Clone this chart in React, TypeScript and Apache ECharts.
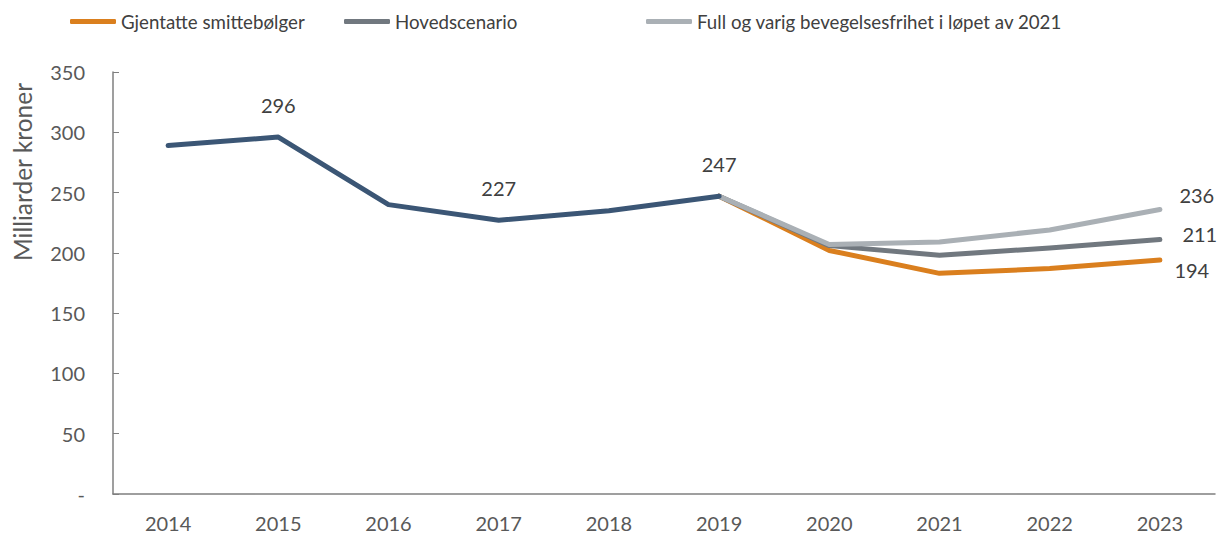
import React, { useEffect, useRef } from "react";
import * as echarts from "echarts";

const years = ["2014", "2015", "2016", "2017", "2018", "2019", "2020", "2021", "2022", "2023"];
const historical = [289, 296, 240, 227, 235, 247, null, null, null, null];
const historicalLabelIdx = [1, 3, 5];
const gjentatte = [null, null, null, null, null, 247, 202, 183, 187, 194];
const hoved = [null, null, null, null, null, 247, 206, 198, 204, 211];
const full = [null, null, null, null, null, 247, 207, 209, 219, 236];
const seriesNames = ["Gjentatte smittebølger", "Hovedscenario", "Full og varig bevegelsesfrihet i løpet av 2021"];
const yTicks = [0, 50, 100, 150, 200, 250, 300, 350];

const FONT = "Lato";

export default function App() {
  const ref = useRef<HTMLDivElement>(null);
  useEffect(() => {
    const chart = echarts.init(ref.current!, null, { renderer: "svg" });
    const lastLabel = (data: (number | null)[], distance: number, offsetY: number) =>
      data.map((v, i) =>
        i === data.length - 1 && v != null
          ? {
              value: v,
              label: {
                show: true,
                position: "right",
                distance,
                offset: [0, offsetY],
                color: "#404040",
                fontSize: 20,
                fontFamily: FONT,
              },
            }
          : v
      );
    const common = {
      type: "line",
      symbol: "circle",
      symbolSize: 1,
      showSymbol: true,
      lineStyle: { width: 5, cap: "round", join: "round" },
      label: { show: false },
    };
    const legendLefts = [65, 339, 641];
    chart.setOption({
      animation: false,
      textStyle: { fontFamily: FONT },
      legend: seriesNames.map((n, i) => ({
        left: legendLefts[i],
        top: 7,
        itemWidth: 46,
        itemHeight: 5,
        icon: "roundRect",
        textStyle: { fontSize: 18.7, color: "#404040", fontFamily: FONT },
        data: [n],
      })),
      grid: { left: 113, right: 16, top: 72, bottom: 46 },
      graphic: [
        {
          type: "text",
          x: 22,
          y: 172,
          rotation: Math.PI / 2,
          style: {
            text: "Milliarder kroner",
            fontSize: 24.5,
            fill: "#595959",
            fontFamily: FONT,
            align: "center",
            verticalAlign: "middle",
          },
        },
      ],
      xAxis: {
        type: "category",
        data: years,
        boundaryGap: true,
        axisLine: { lineStyle: { color: "#7f7f7f", width: 1.5 } },
        axisTick: { inside: true, length: 7, lineStyle: { color: "#7f7f7f" } },
        axisLabel: { color: "#595959", fontSize: 20, margin: 19, fontFamily: FONT },
      },
      yAxis: {
        type: "value",
        min: 0,
        max: 350,
        interval: 50,
        splitLine: { show: false },
        axisLine: { show: true, lineStyle: { color: "#7f7f7f", width: 1.5 } },
        axisTick: { show: true, inside: true, length: 6, lineStyle: { color: "#7f7f7f" } },
        axisLabel: {
          color: "#595959",
          fontSize: 20,
          margin: 28,
          fontFamily: FONT,
          formatter: (v: number) => (yTicks.includes(v) ? (v === 0 ? "-" : String(v)) : ""),
        },
      },
      series: [
        {
          ...common,
          name: seriesNames[0],
          data: lastLabel(gjentatte, 14, 10),
          color: "#DA7F1E",
          z: 2,
        },
        {
          ...common,
          name: seriesNames[1],
          data: lastLabel(hoved, 22, -6),
          color: "#71787F",
          z: 3,
        },
        {
          ...common,
          name: seriesNames[2],
          data: lastLabel(full, 19, -14),
          color: "#AAB0B5",
          z: 4,
        },
        {
          ...common,
          name: "Historisk",
          data: historical.map((v, i) =>
            historicalLabelIdx.includes(i)
              ? {
                  value: v,
                  label: {
                    show: true,
                    position: "top",
                    distance: 22,
                    color: "#404040",
                    fontSize: 20,
                    fontFamily: FONT,
                  },
                }
              : v
          ),
          color: "#3B5675",
          z: 5,
        },
      ],
    });
    return () => chart.dispose();
  }, []);
  return <div ref={ref} style={{ width: 1231, height: 540, margin: -8 }} />;
}
